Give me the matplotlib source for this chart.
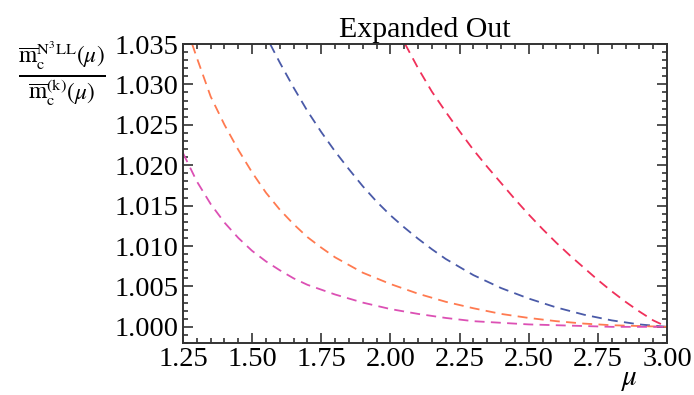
import matplotlib.pyplot as plt
from matplotlib.ticker import MultipleLocator

plt.rcParams['font.family'] = 'Liberation Serif'
plt.rcParams['mathtext.fontset'] = 'stix'

mu_red = [2.053, 2.10, 2.15, 2.20, 2.25, 2.30, 2.35, 2.40, 2.45, 2.50,
          2.55, 2.60, 2.65, 2.70, 2.75, 2.80, 2.85, 2.90, 2.95, 3.00]
r_red = [1.0350, 1.0320, 1.0291, 1.0266, 1.0242, 1.0219, 1.0198, 1.0178, 1.0158, 1.0139,
         1.0121, 1.0104, 1.0088, 1.0073, 1.0058, 1.0044, 1.0031, 1.0019, 1.0008, 1.0000]

mu_blue = [1.565, 1.60, 1.65, 1.70, 1.75, 1.80, 1.85, 1.90, 1.95, 2.00, 2.05,
           2.10, 2.15, 2.20, 2.25, 2.30, 2.40, 2.50, 2.60, 2.70, 2.80, 2.90, 3.00]
r_blue = [1.0350, 1.0327, 1.0296, 1.0267, 1.0241, 1.0217, 1.0195, 1.0174, 1.0155, 1.0138, 1.0123,
          1.0109, 1.0096, 1.0084, 1.0074, 1.0064, 1.0048, 1.0035, 1.0024, 1.0015, 1.0008, 1.0003, 1.0000]

mu_orange = [1.283, 1.30, 1.35, 1.40, 1.45, 1.50, 1.55, 1.60, 1.65, 1.70, 1.75, 1.80,
             1.90, 2.00, 2.10, 2.20, 2.30, 2.40, 2.50, 2.60, 2.70, 2.80, 2.90, 3.00]
r_orange = [1.0350, 1.0333, 1.0285, 1.0250, 1.0219, 1.0191, 1.0166, 1.0145, 1.0127, 1.0111, 1.0098, 1.0086,
            1.0067, 1.0053, 1.0041, 1.0031, 1.0023, 1.0016, 1.0011, 1.0007, 1.0004, 1.0002, 1.0001, 1.0000]

mu_mag = [1.25, 1.30, 1.35, 1.40, 1.45, 1.50, 1.55, 1.60, 1.65, 1.70, 1.80,
          1.90, 2.00, 2.10, 2.20, 2.30, 2.40, 2.50, 2.60, 2.70, 2.80, 3.00]
r_mag = [1.0215, 1.0180, 1.0152, 1.0129, 1.0110, 1.0094, 1.0081, 1.0070, 1.0060, 1.0052, 1.0040,
         1.0030, 1.0022, 1.0016, 1.0011, 1.0007, 1.0005, 1.0003, 1.0002, 1.0001, 1.0000, 1.0000]

xticks = [1.25, 1.50, 1.75, 2.00, 2.25, 2.50, 2.75, 3.00]
yticks = [1.000, 1.005, 1.010, 1.015, 1.020, 1.025, 1.030, 1.035]

fig = plt.figure(figsize=(6.94, 3.95), dpi=100)
ax = fig.add_axes([183/694, 1 - 343/395, 484/694, 299/395])

dash = (0, (5.5, 3.5))
ax.plot(mu_red, r_red, color='#f0305a', lw=1.3, linestyle=dash)
ax.plot(mu_blue, r_blue, color='#4a5aa8', lw=1.3, linestyle=dash)
ax.plot(mu_orange, r_orange, color='#ff7a50', lw=1.3, linestyle=dash)
ax.plot(mu_mag, r_mag, color='#dc50b4', lw=1.3, linestyle=dash)

ax.set_xlim(1.25, 3.0)
ax.set_ylim(0.998, 1.035)
ax.set_xticks(xticks)
ax.set_xticklabels(['%.2f' % t for t in xticks])
ax.set_yticks(yticks)
ax.set_yticklabels(['%.3f' % t for t in yticks])
ax.xaxis.set_minor_locator(MultipleLocator(0.05))
ax.yaxis.set_minor_locator(MultipleLocator(0.001))
ax.tick_params(which='both', direction='in', top=True, right=True,
               width=1.2, color='#333333')
ax.tick_params(which='major', length=7, labelsize=20.5, pad=3)
ax.tick_params(which='minor', length=3.8)
for s in ax.spines.values():
    s.set_linewidth(1.4)
    s.set_color('#333333')

ax.set_title('Expanded Out', fontsize=21.5, pad=5)
fig.text(630/694, 1 - 380/395, r'$\mu$', fontsize=21, ha='center', va='center')
fig.text(62/694, 1 - 74/395,
         r'$\frac{\overline{\mathrm{m}}_\mathrm{c}^{\mathrm{N^3LL}}(\mu)}'
         r'{\overline{\mathrm{m}}_\mathrm{c}^{(\mathrm{k})}(\mu)}$',
         fontsize=24, ha='center', va='center')

fig.savefig('out.png', dpi=100)
